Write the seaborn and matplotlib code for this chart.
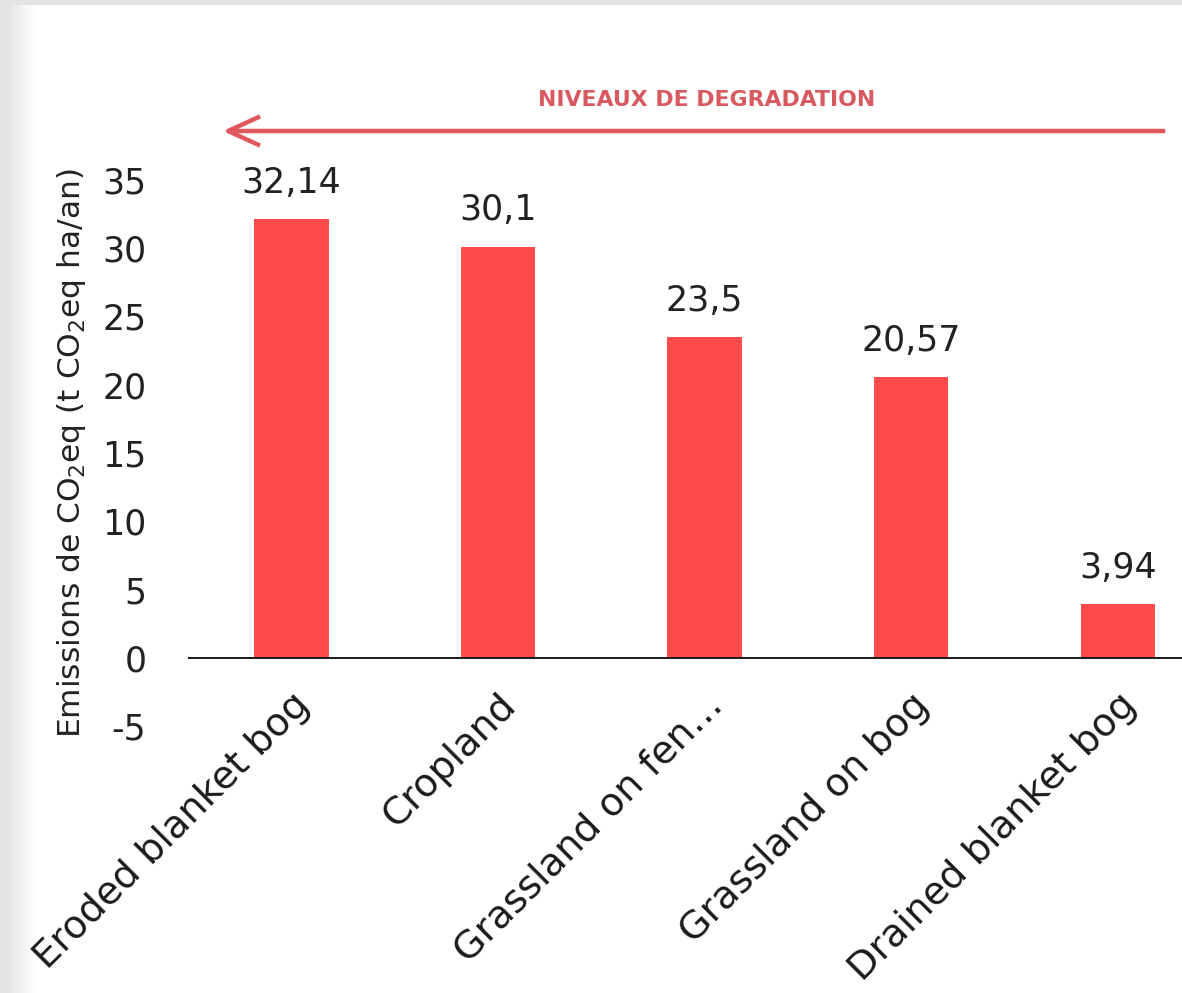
import numpy as np
import pandas as pd
import matplotlib
matplotlib.use("Agg")
import matplotlib.pyplot as plt
from matplotlib.patches import Rectangle, FancyArrowPatch
import seaborn as sns

# Emissions per land use (t CO2eq / ha / year)
categories = ["Eroded blanket bog", "Cropland", "Grassland on fen\u2026",
              "Grassland on bog", "Drained blanket bog"]
values = [32.14, 30.1, 23.5, 20.57, 3.94]
value_labels = [f"{v}".replace(".", ",") for v in values]
y_ticks = [-5, 0, 5, 10, 15, 20, 25, 30, 35]

sns.set_theme(style="white")
plt.rcParams["font.family"] = ["DejaVu Sans"]

W, H, DPI = 1182, 993, 100
fig = plt.figure(figsize=(W / DPI, H / DPI), dpi=DPI, facecolor="#e4e4e4")

# White slide panel with a soft shadow on its left edge
fig.patches.append(Rectangle((12 / W, 0), 1 - 12 / W, 1 - 5 / H,
                             transform=fig.transFigure, facecolor="white",
                             edgecolor="none", zorder=-5))
shade = fig.add_axes([12 / W, 0, 24 / W, 1 - 5 / H], zorder=-1)
grad = np.linspace(0.0, 1.0, 64)[None, :]
shade.imshow(grad, aspect="auto", cmap="gray", vmin=-3.0, vmax=1.0, alpha=0.35)
shade.axis("off")

ax = fig.add_axes([188 / W, 1 - 726 / H, 1 - 188 / W, (726 - 180) / H], zorder=2)
df = pd.DataFrame({"cat": categories, "val": values})
sns.barplot(data=df, x="cat", y="val", color="#ff4b4b", saturation=1,
            width=0.36, ax=ax, edgecolor="none")

ax.set_facecolor("none")
ax.set_xlim(-0.5, 4.31)
ax.set_ylim(-5, 35)
ax.set_yticks(y_ticks)
ax.set_yticklabels([str(t) for t in y_ticks], fontsize=25, color="#222222")
for s in ax.spines.values():
    s.set_visible(False)
ax.axhline(0, color="#1a1a1a", lw=1.4, zorder=3)
ax.tick_params(axis="y", length=0, pad=30)
ax.tick_params(axis="x", length=0, pad=-28)

ax.set_xlabel("")
ax.set_ylabel("Emissions de CO$_2$eq (t CO$_2$eq ha/an)", fontsize=22.5,
              color="#222222", labelpad=10)
ax.set_xticks(range(len(categories)))
ax.set_xticklabels(categories, rotation=45, ha="right",
                   rotation_mode="anchor", fontsize=27.5, color="#1a1a1a")

ax.bar_label(ax.containers[0], labels=value_labels, padding=14,
             fontsize=25, color="#222222")

# Degradation direction arrow and caption
fig.text(707 / W, 1 - 100 / H, "NIVEAUX DE DEGRADATION",
         fontsize=15.8, fontweight="bold", color="#d85a60",
         ha="center", va="center")
fig.add_artist(FancyArrowPatch(
    (1168 / W, 1 - 131 / H), (220 / W, 1 - 131 / H),
    transform=fig.transFigure, arrowstyle="->,head_length=2.3,head_width=1.05",
    color="#e0585d", lw=3.2, mutation_scale=10, capstyle="butt"))

fig.savefig("out.png", dpi=DPI, facecolor=fig.get_facecolor())
